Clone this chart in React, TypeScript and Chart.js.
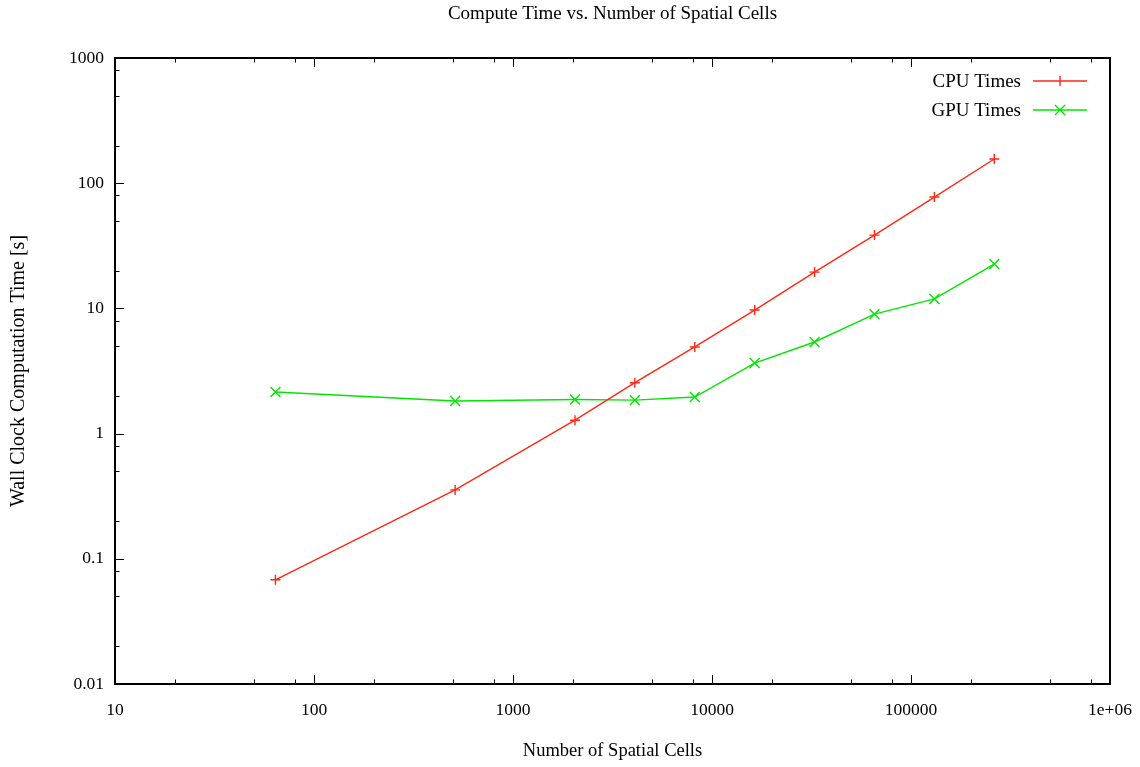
import React, { useEffect, useRef } from "react";
import { Chart, registerables } from "chart.js";

Chart.register(...registerables);

const cells = [64, 512, 2048, 4096, 8192, 16384, 32768, 65536, 131072, 262144];
const cpuTimes = [0.068, 0.355, 1.28, 2.55, 4.92, 9.7, 19.5, 38.5, 77.5, 156];
const gpuTimes = [2.15, 1.82, 1.87, 1.85, 1.96, 3.66, 5.39, 9.0, 11.9, 22.6];

const xTickValues = [10, 100, 1000, 10000, 100000, 1000000];
const xTickLabels = ["10", "100", "1000", "10000", "100000", "1e+06"];
const yTickValues = [0.01, 0.1, 1, 10, 100, 1000];
const yTickLabels = ["0.01", "0.1", "1", "10", "100", "1000"];
const minorMultipliers = [2, 5, 8];

const seriesLabels = ["CPU Times", "GPU Times"];
const CPU_COLOR = "rgb(255,40,20)";
const GPU_COLOR = "rgb(0,230,0)";
const FONT = "'Liberation Serif', 'Times New Roman', serif";
const FS = 17.5;
const FS_TITLE = 19;
const FS_LEGEND = 19;
const FS_XTITLE = 18.5;
const FS_YTITLE = 20;
const LW = 1.4;

function minorValues(majors: number[]) {
  const out: number[] = [];
  for (let i = 0; i < majors.length - 1; i++) {
    for (const m of minorMultipliers) out.push(majors[i] * m);
  }
  return out;
}

const framePlugin = {
  id: "gnuFrame",
  afterDatasetsDraw(chart: any) {
    const { ctx, chartArea } = chart;
    const { left, right, top, bottom } = chartArea;
    const xs = chart.scales.x;
    const ys = chart.scales.y;
    ctx.save();
    ctx.strokeStyle = "#000";
    ctx.lineWidth = 1;
    const majorLen = 9;
    const minorLen = 4.5;
    ctx.beginPath();
    const xTick = (v: number, len: number) => {
      const px = Math.round(xs.getPixelForValue(v)) + 0.5;
      ctx.moveTo(px, bottom);
      ctx.lineTo(px, bottom - len);
      ctx.moveTo(px, top);
      ctx.lineTo(px, top + len);
    };
    const yTick = (v: number, len: number) => {
      const py = Math.round(ys.getPixelForValue(v)) + 0.5;
      ctx.moveTo(left, py);
      ctx.lineTo(left + len, py);
    };
    xTickValues.forEach((v) => xTick(v, majorLen));
    minorValues(xTickValues).forEach((v) => xTick(v, minorLen));
    yTickValues.forEach((v) => yTick(v, majorLen));
    minorValues(yTickValues).forEach((v) => yTick(v, minorLen));
    ctx.stroke();
    ctx.lineWidth = 2;
    ctx.strokeRect(left, top, right - left, bottom - top);

    // legend
    const items = chart.data.datasets.map((d: any) => ({
      label: d.label,
      color: d.borderColor,
      style: d.pointStyle,
    }));
    ctx.font = `${FS_LEGEND}px ${FONT}`;
    ctx.textAlign = "right";
    ctx.textBaseline = "middle";
    items.forEach((it: any, i: number) => {
      const y = 81 + i * 29;
      ctx.fillStyle = "#000";
      ctx.fillText(it.label, 1021, y + 1);
      ctx.strokeStyle = it.color;
      ctx.lineWidth = LW;
      ctx.beginPath();
      ctx.moveTo(1033, y);
      ctx.lineTo(1087, y);
      const cx = 1060;
      if (it.style === "cross") {
        ctx.moveTo(cx - 5, y);
        ctx.lineTo(cx + 5, y);
        ctx.moveTo(cx, y - 5);
        ctx.lineTo(cx, y + 5);
      } else {
        ctx.moveTo(cx - 5, y - 5);
        ctx.lineTo(cx + 5, y + 5);
        ctx.moveTo(cx - 5, y + 5);
        ctx.lineTo(cx + 5, y - 5);
      }
      ctx.stroke();
    });
    ctx.restore();
  },
};

export default function App() {
  const ref = useRef<HTMLCanvasElement | null>(null);
  useEffect(() => {
    if (!ref.current) return;
    const font = { family: FONT, size: FS };
    const chart = new Chart(ref.current, {
      type: "line",
      data: {
        datasets: [
          {
            label: seriesLabels[0],
            data: cells.map((c, i) => ({ x: c, y: cpuTimes[i] })),
            borderColor: CPU_COLOR,
            backgroundColor: CPU_COLOR,
            borderWidth: LW,
            pointStyle: "cross",
            pointRadius: 5,
            pointBorderWidth: LW,
            pointBorderColor: CPU_COLOR,
            tension: 0,
            fill: false,
          },
          {
            label: seriesLabels[1],
            data: cells.map((c, i) => ({ x: c, y: gpuTimes[i] })),
            borderColor: GPU_COLOR,
            backgroundColor: GPU_COLOR,
            borderWidth: LW,
            pointStyle: "crossRot",
            pointRadius: 7,
            pointBorderWidth: LW,
            pointBorderColor: GPU_COLOR,
            tension: 0,
            fill: false,
          },
        ],
      },
      options: {
        animation: false,
        responsive: false,
        maintainAspectRatio: false,
        layout: { padding: { left: 0, right: 30, top: 0, bottom: 0 } },
        plugins: {
          legend: { display: false },
          tooltip: { enabled: false },
          title: {
            display: true,
            fullSize: false,
            text: "Compute Time vs. Number of Spatial Cells",
            color: "#000",
            font: { family: FONT, size: FS_TITLE, weight: "normal" },
            padding: { top: 3, bottom: 32.2 },
          },
        },
        scales: {
          x: {
            type: "logarithmic",
            position: "bottom",
            min: 10,
            max: 1000000,
            grid: { display: false, drawTicks: false },
            border: { display: false },
            afterBuildTicks: (s: any) => {
              s.ticks = xTickValues.map((v) => ({ value: v }));
            },
            afterFit: (s: any) => {
              s.height = 83;
              s.paddingLeft = 0;
              s.paddingRight = 0;
            },
            ticks: {
              autoSkip: false,
              maxRotation: 0,
              minRotation: 0,
              padding: 16,
              color: "#000",
              font,
              callback: (_v: any, i: number) => xTickLabels[i],
            },
            title: {
              display: true,
              text: "Number of Spatial Cells",
              color: "#000",
              font: { family: FONT, size: FS_XTITLE },
              padding: { top: 0, bottom: 5 },
            },
          },
          y: {
            type: "logarithmic",
            position: "left",
            min: 0.01,
            max: 1000,
            grid: { display: false, drawTicks: false },
            border: { display: false },
            afterBuildTicks: (s: any) => {
              s.ticks = yTickValues.map((v) => ({ value: v }));
            },
            afterFit: (s: any) => {
              s.width = 115;
              s.paddingTop = 0;
              s.paddingBottom = 0;
            },
            ticks: {
              autoSkip: false,
              padding: 11,
              color: "#000",
              font,
              callback: (_v: any, i: number) => yTickLabels[i],
            },
            title: {
              display: true,
              text: "Wall Clock Computation Time [s]",
              color: "#000",
              font: { family: FONT, size: FS_YTITLE },
              padding: { top: 7, bottom: 0 },
            },
          },
        },
      },
      plugins: [framePlugin],
    });
    return () => chart.destroy();
  }, []);
  return (
    <div style={{ position: "fixed", left: 0, top: 0, width: 1140, height: 767, background: "#fff" }}>
      <canvas ref={ref} width={1140} height={767} style={{ width: 1140, height: 767 }} />
    </div>
  );
}
